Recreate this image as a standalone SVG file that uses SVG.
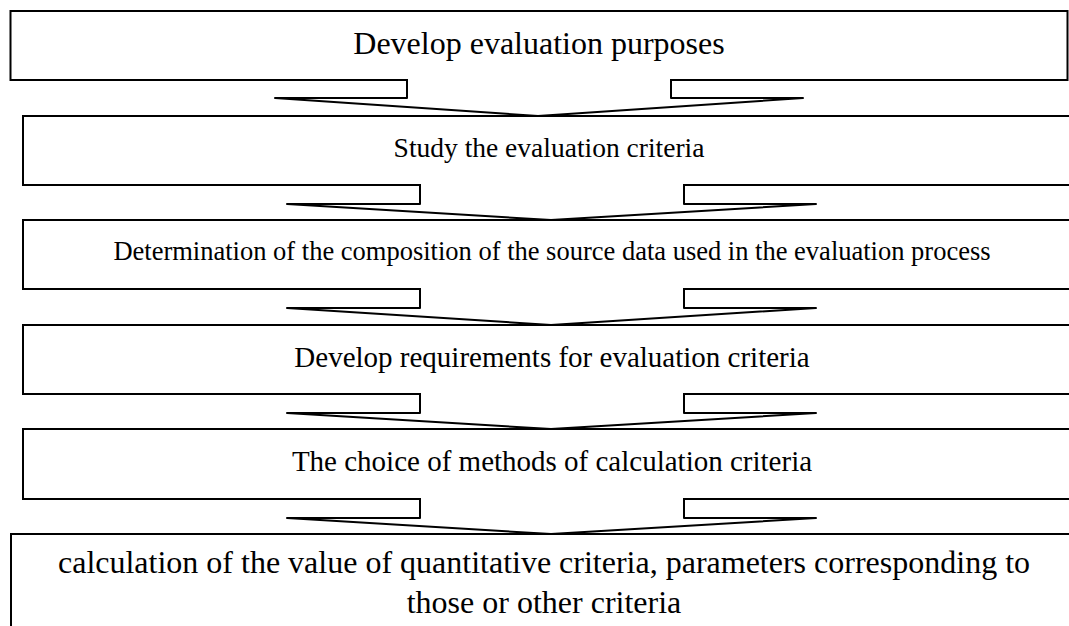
<svg xmlns="http://www.w3.org/2000/svg" width="1069" height="626" viewBox="0 0 1069 626">
<style>
.box{fill:#fff;stroke:#000;stroke-width:2}
.arr{fill:#fff;stroke:#000;stroke-width:2;stroke-linejoin:round}
text{font-family:"Liberation Serif","Times New Roman",serif;fill:#000;text-anchor:middle}
</style>
<rect width="1069" height="626" fill="#fff"/>
<g id="n1"><rect class="box" x="10.5" y="11" width="1057" height="69"/><text x="539" y="54" font-size="32">Develop evaluation purposes</text></g>
<g id="n2"><rect class="box" x="23" y="116" width="1056" height="69"/><text x="549" y="157" font-size="27.5">Study the evaluation criteria</text></g>
<g id="n3"><rect class="box" x="23" y="220" width="1056" height="69"/><text x="552" y="260" font-size="26.5">Determination of the composition of the source data used in the evaluation process</text></g>
<g id="n4"><rect class="box" x="23" y="325" width="1056" height="69"/><text x="552" y="367" font-size="29">Develop requirements for evaluation criteria</text></g>
<g id="n5"><rect class="box" x="23" y="429" width="1056" height="70"/><text x="552" y="471" font-size="29">The choice of methods of calculation criteria</text></g>
<g id="n6"><rect class="box" x="11" y="534" width="1070" height="120"/><text x="544" y="573" font-size="32">calculation of the value of quantitative criteria, parameters corresponding to</text><text x="544" y="613" font-size="32">those or other criteria</text></g>
<g id="connectors">
<path class="arr" d="M407,79 V98 H275 L538,116 L803,98 H671 V79"/>
<path class="arr" d="M420,184 V204 H287 L551,220 L816,204 H684 V184"/>
<path class="arr" d="M420,288 V308 H287 L551,325 L816,308 H684 V288"/>
<path class="arr" d="M420,393 V413 H287 L551,429 L816,413 H684 V393"/>
<path class="arr" d="M420,498 V518 H287 L551,534 L816,518 H684 V498"/>
</g>
</svg>
